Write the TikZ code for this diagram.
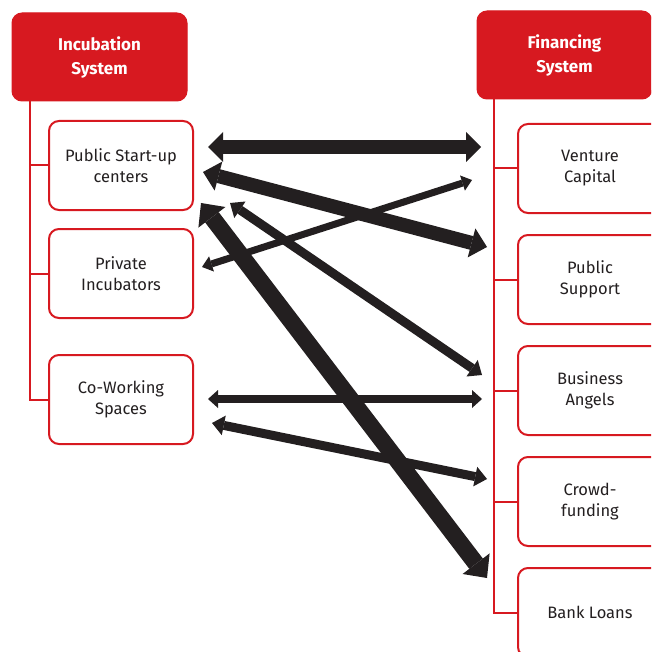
\documentclass[tikz,border=0pt]{standalone}
\usepackage{fontspec}
\setmainfont{Fira Sans}
\usetikzlibrary{arrows.meta}
\definecolor{cred}{HTML}{D71920}
\definecolor{cblk}{HTML}{231F20}
\begin{document}
\begin{tikzpicture}[x=1pt,y=-1pt,
  hdr/.style={draw=cred, fill=cred, rounded corners=10pt, minimum width=175pt, minimum height=88pt,
    text=white, font=\bfseries\fontsize{17}{24}\selectfont, align=center, inner sep=0pt, line width=1pt},
  item/.style={draw=cred, fill=white, line width=2pt, rounded corners=10pt, minimum width=144pt,
    minimum height=89pt, font=\fontsize{16.5}{21}\selectfont, align=center, text=cblk, inner sep=0pt},
  tree/.style={draw=cred, line width=2pt},
  arr/.style n args={3}{draw=cblk, line width=#1pt,
    {Triangle[width=#2pt,length=#3pt,line width=0pt]}-{Triangle[width=#2pt,length=#3pt,line width=0pt]}}
]
\clip (0,0) rectangle (651,652);
\useasboundingbox (0,0) rectangle (651,652);

% headers
\node[hdr] (inc) at (99.5,57) {Incubation\\System};
\node[hdr] (fin) at (564.5,55) {Financing\\System};

% left items
\node[item] (psc) at (121,165.5) {Public Start-up\\centers};
\node[item] (pri) at (121,273.5) {Private\\Incubators};
\node[item] (cow) at (121,399.5) {Co-Working\\Spaces};

% right items
\node[item] (vc) at (590,168.5) {Venture\\Capital};
\node[item] (ps) at (590,279.5) {Public\\Support};
\node[item] (ba) at (590,390.5) {Business\\Angels};
\node[item] (cf) at (590,501.5) {Crowd-\\funding};
\node[item] (bl) at (590,612.5) {Bank Loans};

% trees
\draw[tree] ([xshift=18pt]inc.south west) |- (cow.west);
\draw[tree] ([xshift=18pt]inc.south west |- psc.west) -- (psc.west);
\draw[tree] ([xshift=18pt]inc.south west |- pri.west) -- (pri.west);
\draw[tree] ([xshift=17pt]fin.south west) |- (bl.west);
\draw[tree] ([xshift=17pt]fin.south west |- vc.west) -- (vc.west);
\draw[tree] ([xshift=17pt]fin.south west |- ps.west) -- (ps.west);
\draw[tree] ([xshift=17pt]fin.south west |- ba.west) -- (ba.west);
\draw[tree] ([xshift=17pt]fin.south west |- cf.west) -- (cf.west);

% arrow end points
\coordinate (a1l) at (208,147); \coordinate (a1r) at (481,147);
\coordinate (a2l) at (203,172); \coordinate (a2r) at (487,247);
\coordinate (a3l) at (202,267); \coordinate (a3r) at (472,180);
\coordinate (a4l) at (230,203); \coordinate (a4r) at (482,375);
\coordinate (a5l) at (201,203); \coordinate (a5r) at (487,578);
\coordinate (a6l) at (208,399); \coordinate (a6r) at (482,399);
\coordinate (a7l) at (212,423); \coordinate (a7r) at (487,479);

\draw[arr={14}{30}{15}] (a1l) -- (a1r);
\draw[arr={14}{30}{16}] (a2l) -- (a2r);
\draw[arr={7}{16}{10}] (a3l) -- (a3r);
\draw[arr={9}{20}{12}] (a4l) -- (a4r);
\draw[arr={17}{34}{18}] (a5l) -- (a5r);
\draw[arr={8}{18}{10}] (a6l) -- (a6r);
\draw[arr={9}{20}{12}] (a7l) -- (a7r);
\end{tikzpicture}
\end{document}
